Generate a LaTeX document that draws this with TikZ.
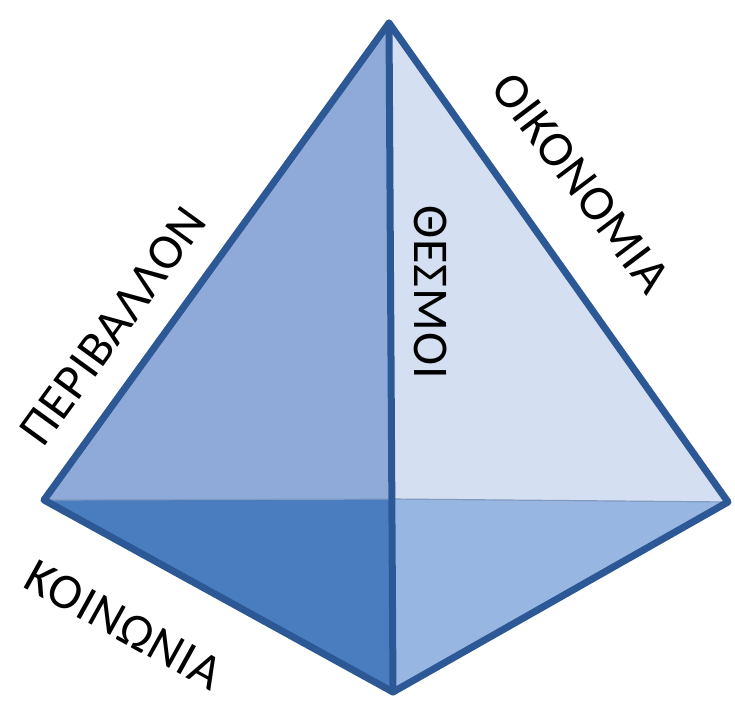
\documentclass[tikz,border=0pt]{standalone}
\usepackage{fontspec}
\setmainfont{Carlito}[LetterSpace=2]
\begin{document}
\begin{tikzpicture}[x=1pt,y=-1pt,
  edge/.style={draw=edgeblue,line width=7pt,line join=round,line cap=round},
  lbl/.style={font=\fontsize{50}{50}\selectfont,inner sep=0pt}]
\definecolor{edgeblue}{RGB}{45,88,150}
\definecolor{faceUL}{RGB}{143,170,216}
\definecolor{faceUR}{RGB}{212,223,241}
\definecolor{faceLL}{RGB}{74,124,192}
\definecolor{faceLR}{RGB}{152,182,226}
\useasboundingbox (0,0) rectangle (735,702);
\coordinate (T) at (389,23);
\coordinate (L) at (44,500);
\coordinate (R) at (728,502);
\coordinate (B) at (393,692);
\coordinate (C) at (391,499);
\fill[faceUL] (T) -- (L) -- (C) -- cycle;
\fill[faceUR] (T) -- (C) -- (R) -- cycle;
\fill[faceLL] (L) -- (C) -- (B) -- cycle;
\fill[faceLR] (C) -- (R) -- (B) -- cycle;
\draw[edgeblue!60,line width=1.2pt] (L) -- (C) -- (R);
\draw[edge] (T) -- (L) -- (B) -- (R) -- cycle;
\draw[edge] (T) -- (B);
\node[lbl,rotate=54] (per) at (113,326) {ΠΕΡΙΒΑΛΛΟΝ};
\node[lbl,rotate=-53] (oik) at (581,183) {ΟΙΚΟΝΟΜΙΑ};
\node[lbl,rotate=-90] (the) at (431,292) {ΘΕΣΜΟΙ};
\node[lbl,rotate=-29] (koi) at (124,625) {ΚΟΙΝΩΝΙΑ};
\end{tikzpicture}
\end{document}
